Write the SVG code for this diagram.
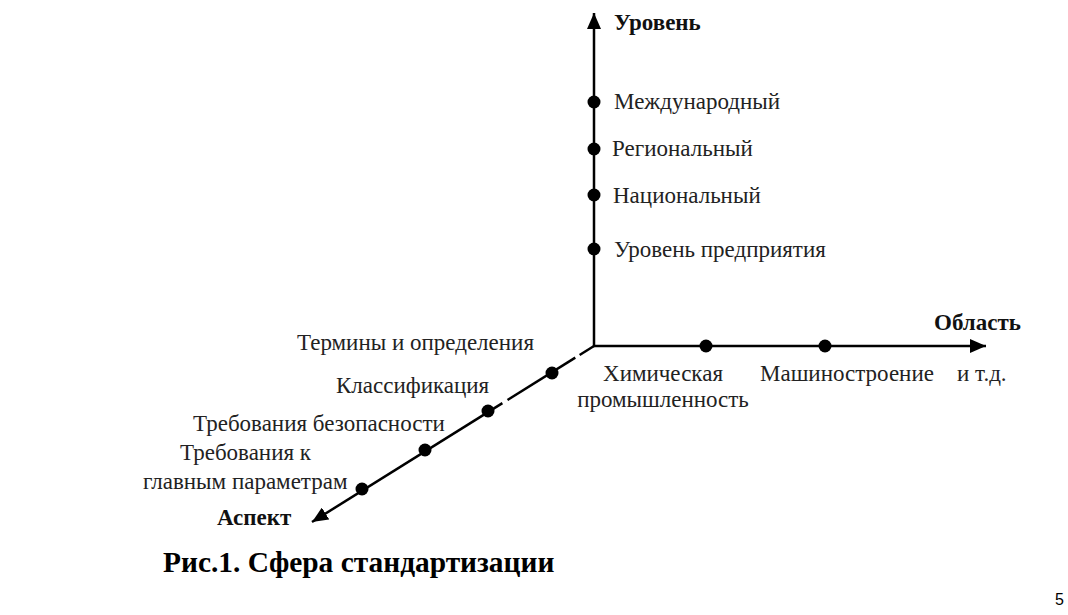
<svg xmlns="http://www.w3.org/2000/svg" width="1068" height="615" viewBox="0 0 1068 615">
<style>
.ax{stroke:#000;stroke-width:2.5;fill:none}
.dot{fill:#000}
.t{font-family:"Liberation Serif","Times New Roman",serif;font-size:23px;fill:#222}
.b{font-family:"Liberation Serif","Times New Roman",serif;font-size:23px;font-weight:bold;fill:#111}
.cap{font-family:"Liberation Serif","Times New Roman",serif;font-size:29.4px;font-weight:bold;fill:#000}
.pg{font-family:"Liberation Sans",Arial,sans-serif;font-size:16px;fill:#000}
</style>
<defs>
<marker id="arr" markerUnits="userSpaceOnUse" markerWidth="18" markerHeight="14" refX="16" refY="7" orient="auto">
<path d="M0,0 L16,7 L0,14 z" fill="#000"/>
</marker>
</defs>
<rect width="1068" height="615" fill="#fff"/>
<g id="connectors">
<line class="ax" x1="594" y1="346" x2="594" y2="13" marker-end="url(#arr)"/>
<line class="ax" x1="593" y1="346" x2="986" y2="346" marker-end="url(#arr)"/>
<line class="ax" x1="594" y1="346" x2="579.6" y2="355"/>
<line class="ax" x1="575.3" y1="357.6" x2="507.5" y2="400"/>
<line class="ax" x1="502.4" y1="403.1" x2="312" y2="522" marker-end="url(#arr)"/>
</g>
<g id="axis-level">
<text class="b" x="614" y="30">Уровень</text>
</g>
<g id="level-international"><circle class="dot" cx="594" cy="102" r="6.5"/><text class="t" x="614" y="109">Международный</text></g>
<g id="level-regional"><circle class="dot" cx="594" cy="149" r="6.5"/><text class="t" x="612" y="156">Региональный</text></g>
<g id="level-national"><circle class="dot" cx="594" cy="195" r="6.5"/><text class="t" x="613" y="203">Национальный</text></g>
<g id="level-enterprise"><circle class="dot" cx="594" cy="249" r="6.5"/><text class="t" x="614" y="257">Уровень предприятия</text></g>
<g id="axis-area"><text class="b" x="934" y="330">Область</text></g>
<g id="area-chem"><circle class="dot" cx="706" cy="346" r="6.5"/><text class="t" x="663" y="381" text-anchor="middle">Химическая</text><text class="t" x="663" y="407" text-anchor="middle">промышленность</text></g>
<g id="area-mech"><circle class="dot" cx="825" cy="346" r="6.5"/><text class="t" x="760" y="381">Машиностроение</text></g>
<g id="area-etc"><text class="t" x="957" y="381">и т.д.</text></g>
<g id="aspect-terms"><text class="t" x="297" y="350">Термины и определения</text></g>
<g id="aspect-class"><circle class="dot" cx="552" cy="373" r="6.5"/><text class="t" x="336" y="393">Классификация</text></g>
<g id="aspect-safety"><circle class="dot" cx="488" cy="411" r="6.5"/><text class="t" x="193" y="431">Требования безопасности</text></g>
<g id="aspect-params"><circle class="dot" cx="425" cy="450" r="6.5"/><text class="t" x="180" y="460">Требования к</text><text class="t" x="143" y="489">главным параметрам</text></g>
<g id="aspect-dot4"><circle class="dot" cx="362" cy="489" r="6.5"/></g>
<g id="axis-aspect"><text class="b" x="217" y="525">Аспект</text></g>
<text class="cap" x="163" y="572">Рис.1. Сфера стандартизации</text>
<text class="pg" x="1055" y="605">5</text>
</svg>
